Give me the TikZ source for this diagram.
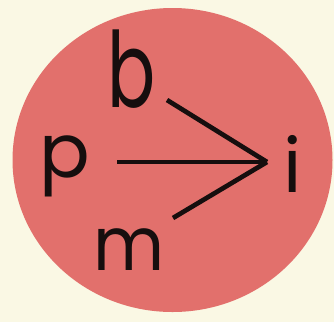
\documentclass[tikz,border=0pt]{standalone}
\usepackage{fontspec}
\usepackage{graphicx}
\setmainfont{Poppins}
\definecolor{paper}{RGB}{250,248,228}
\definecolor{rose}{RGB}{226,112,108}
\definecolor{ink}{RGB}{22,14,14}

\begin{document}
\begin{tikzpicture}[x=0.03cm,y=-0.03cm,
    every node/.style={font=\fontsize{64}{64}\selectfont,text=ink,inner sep=0pt,anchor=base},
    stroke/.style={draw=ink,line width=4pt}]
    \fill[paper] (0,0) rectangle (334,322);
    \useasboundingbox (0,0) rectangle (334,322);
    \fill[rose] (172.5,160) ellipse[x radius=160,y radius=152];
    % letters
    \node (b) at (131.5,107) {\scalebox{0.95}[1.4]{b}};
    \node (p) at (65,177) {p};
    \node (m) at (129.5,270) {\scalebox{0.92}[1]{m}};
    \node (i) at (293,192) {i};
    % converging strokes
    \coordinate (apex) at (267,162);
    \coordinate (bend) at (167,100);
    \coordinate (pend) at (117,162);
    \coordinate (mend) at (173,218);
    \draw[stroke] (bend)--(apex);
    \draw[stroke] (pend)--(apex);
    \draw[stroke] (mend)--(apex);
\end{tikzpicture}
\end{document}
